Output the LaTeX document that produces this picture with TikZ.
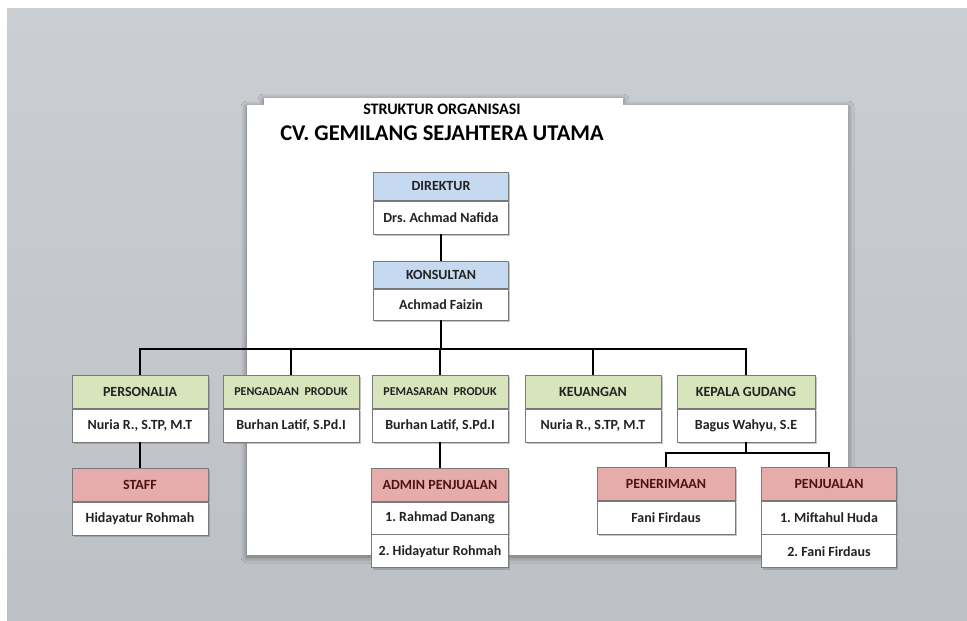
\documentclass[tikz,border=0pt]{standalone}
\usepackage{fontspec}
\setmainfont{Carlito}
\frenchspacing
\usetikzlibrary{shadows,shadows.blur}
\definecolor{bgtop}{HTML}{CBCED3}
\definecolor{bgbot}{HTML}{BDC0C5}
\definecolor{hblue}{HTML}{C5D9F1}
\definecolor{hgreen}{HTML}{D7E4BC}
\definecolor{hred}{HTML}{E6ABAB}
\definecolor{boxline}{HTML}{7A7A7A}
\definecolor{redtext}{HTML}{4A1414}
\definecolor{dtext}{HTML}{222222}
\begin{document}
\begin{tikzpicture}[x=1pt,y=-1pt,
  cell/.style={draw=boxline, line width=0.7pt, minimum width=136pt, minimum height=33pt,
    inner sep=0pt, anchor=north, font=\bfseries\fontsize{14}{16}\selectfont, text=dtext,
    drop shadow={shadow xshift=1.5pt, shadow yshift=-1.8pt, opacity=0.45}},
  hb/.style={cell, fill=hblue},
  hg/.style={cell, fill=hgreen},
  hr/.style={cell, fill=hred, text=redtext},
  bd/.style={cell, fill=white},
  small/.style={font=\bfseries\fontsize{12}{14}\selectfont},
  conn/.style={draw=black, line width=2.2pt},
  ttl/.style={text=black, inner sep=0pt}
]
\useasboundingbox (0,0) rectangle (967,621);
\fill[white] (0,0) rectangle (967,621);
\shade[top color=bgtop, bottom color=bgbot] (7,8) rectangle (967,621);
% page
\fill[white, blur shadow={shadow xshift=0pt, shadow yshift=-2pt, shadow blur radius=6pt, shadow opacity=50}]
  (247,105) -- (264,105) -- (264,98) -- (623,98) -- (623,105) -- (848,105) -- (848,555) -- (247,555) -- cycle;
% titles
\node[ttl, font=\bfseries\fontsize{16}{18}\selectfont] (t1) at (442,109) {STRUKTUR ORGANISASI};
\node[ttl, font=\bfseries\fontsize{22.5}{26}\selectfont] (t2) at (442,133) {CV. GEMILANG SEJAHTERA UTAMA};
% top level
\node[hb, minimum width=135pt, minimum height=28pt] (dirH) at (441,172) {DIREKTUR};
\node[bd, minimum width=135pt] (dirB) at (dirH.south) {Drs. Achmad Nafida};
\node[hb, minimum width=135pt, minimum height=27pt] (konH) at (441,261) {KONSULTAN};
\node[bd, minimum width=135pt, minimum height=31pt] (konB) at (konH.south) {Achmad Faizin};
% level 2
\node[hg] (persH) at (140,375) {PERSONALIA};
\node[bd] (persB) at (persH.south) {Nuria R., S.TP, M.T};
\node[hg, small] (pengH) at (291,375) {PENGADAAN\ \ PRODUK};
\node[bd] (pengB) at (pengH.south) {Burhan Latif, S.Pd.I};
\node[hg, small] (pemH) at (440,375) {PEMASARAN\ \ PRODUK};
\node[bd] (pemB) at (pemH.south) {Burhan Latif, S.Pd.I};
\node[hg] (keuH) at (593,375) {KEUANGAN};
\node[bd] (keuB) at (keuH.south) {Nuria R., S.TP, M.T};
\node[hg, minimum width=138pt] (kepH) at (746,375) {KEPALA GUDANG};
\node[bd, minimum width=138pt] (kepB) at (kepH.south) {Bagus Wahyu, S.E};
% level 3
\node[hr] (staffH) at (140,468) {STAFF};
\node[bd] (staffB) at (staffH.south) {Hidayatur Rohmah};
\node[hr, minimum width=137pt] (admH) at (440,468) {ADMIN PENJUALAN};
\node[bd, minimum width=137pt, minimum height=32pt] (admR1) at (admH.south) {1. Rahmad Danang};
\node[bd, minimum width=137pt] (admR2) at (admR1.south) {2. Hidayatur Rohmah};
\node[hr, minimum width=138pt] (terH) at (666,467) {PENERIMAAN};
\node[bd, minimum width=138pt] (terB) at (terH.south) {Fani Firdaus};
\node[hr, minimum width=135pt] (julH) at (829,467) {PENJUALAN};
\node[bd, minimum width=135pt] (julR1) at (julH.south) {1. Miftahul Huda};
\node[bd, minimum width=135pt] (julR2) at (julR1.south) {2. Fani Firdaus};
% connectors
\coordinate (bus) at (441,349);
\coordinate (gud) at (746,453);
\draw[conn] (dirB.south) -- (konH.north);
\draw[conn] (konB.south) -- (bus);
\draw[conn] (persH.north) |- (bus) -| (kepH.north);
\draw[conn] (pengH.north) -- (pengH.north |- bus);
\draw[conn] (pemH.north) -- (pemH.north |- bus);
\draw[conn] (keuH.north) -- (keuH.north |- bus);
\draw[conn] (persB.south) -- (staffH.north);
\draw[conn] (pemB.south) -- (admH.north);
\draw[conn] (kepB.south) -- (gud);
\draw[conn] (terH.north) |- (gud) -| (julH.north);
\end{tikzpicture}
\end{document}
